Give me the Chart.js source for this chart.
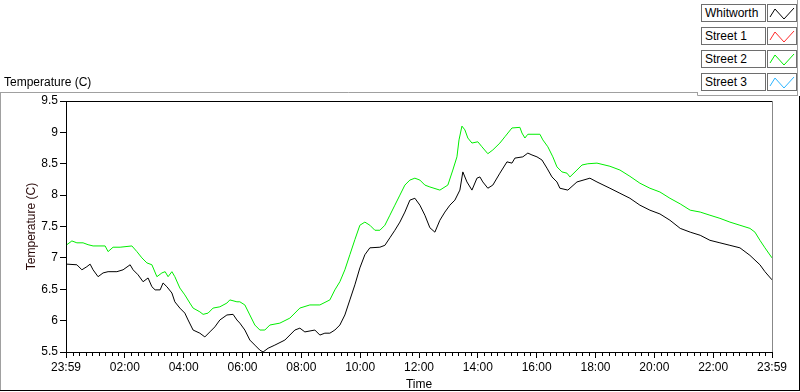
<!DOCTYPE html>
<html>
<head>
<meta charset="utf-8">
<script src="https://cdn.jsdelivr.net/npm/chart.js@4.4.0/dist/chart.umd.min.js"></script>
<style>
  body { margin: 0; background: #fff; font-family: "Liberation Sans", Arial, sans-serif; }
  #wrap { position: relative; width: 800px; height: 392px; overflow: hidden; }
  #c { position: absolute; left: 0; top: 0; }
  .lbl, .ico { position: absolute; height: 16px; border: 1px solid #6e6e6e; background: #fff; box-sizing: content-box; }
  .lbl { left: 701px; width: 60px; font-size: 12px; line-height: 16px; padding-left: 3px; color: #000; white-space: nowrap; }
  .ico { left: 767px; width: 28px; }
  .ico svg { display: block; }
</style>
</head>
<body>
<div id="wrap">
  <canvas id="c" width="800" height="392"></canvas>
  <div id="legend"></div>
</div>
<script>
// hours since 23:59 of the previous day
const whitworthTime = [0.03,0.37,0.54,0.71,0.82,0.92,1.09,1.26,1.43,1.73,1.94,2.18,2.28,2.45,2.62,2.79,2.92,3.03,3.20,3.30,3.43,3.60,3.70,3.87,4.04,4.15,4.32,4.55,4.72,4.89,5.06,5.23,5.47,5.68,5.81,5.91,6.08,6.25,6.42,6.59,6.70,6.87,7.10,7.44,7.78,7.95,8.12,8.46,8.63,8.80,8.97,9.14,9.31,9.48,9.65,9.82,9.99,10.16,10.33,10.67,10.84,11.01,11.18,11.35,11.52,11.69,11.86,12.03,12.20,12.37,12.54,12.71,12.88,13.05,13.22,13.39,13.49,13.63,13.80,13.97,14.07,14.17,14.34,14.51,14.75,14.99,15.16,15.26,15.53,15.70,15.84,16.01,16.18,16.35,16.52,16.69,16.79,17.06,17.37,17.81,18.05,18.49,18.83,19.17,19.51,19.85,20.19,20.53,20.88,21.22,21.56,21.89,22.23,22.57,22.91,23.25,23.59,23.76,24.00];
const whitworthTemp = [6.90,6.89,6.81,6.86,6.90,6.81,6.70,6.76,6.78,6.78,6.81,6.89,6.81,6.73,6.62,6.68,6.54,6.49,6.49,6.60,6.54,6.44,6.30,6.20,6.12,6.01,5.85,5.80,5.74,5.82,5.90,6.01,6.09,6.10,6.01,5.96,5.85,5.69,5.61,5.53,5.50,5.56,5.61,5.69,5.85,5.88,5.82,5.85,5.77,5.80,5.80,5.85,5.93,6.09,6.33,6.57,6.84,7.05,7.16,7.17,7.20,7.32,7.44,7.57,7.73,7.92,7.95,7.84,7.68,7.48,7.41,7.60,7.73,7.84,7.92,8.08,8.37,8.21,8.08,8.27,8.29,8.21,8.11,8.16,8.35,8.53,8.51,8.59,8.61,8.67,8.64,8.61,8.56,8.43,8.29,8.21,8.11,8.08,8.21,8.27,8.21,8.11,8.03,7.95,7.84,7.76,7.70,7.60,7.47,7.41,7.36,7.28,7.24,7.20,7.16,7.04,6.89,6.78,6.65];

const street2Time = [0.03,0.20,0.37,0.58,0.75,0.92,1.33,1.43,1.60,1.84,2.24,2.41,2.58,2.75,2.92,3.09,3.26,3.37,3.47,3.60,3.70,3.87,4.04,4.21,4.32,4.55,4.66,4.83,5.00,5.23,5.47,5.57,5.81,5.91,6.08,6.25,6.42,6.59,6.76,6.93,7.27,7.61,7.95,8.29,8.63,8.97,9.14,9.31,9.48,9.65,9.82,9.99,10.16,10.33,10.50,10.67,10.84,11.01,11.18,11.35,11.52,11.69,11.86,12.03,12.20,12.37,12.71,12.98,13.15,13.29,13.36,13.46,13.56,13.66,13.80,14.00,14.14,14.34,14.51,14.75,14.92,15.16,15.43,15.50,15.60,15.70,16.11,16.21,16.38,16.55,16.69,16.86,17.03,17.13,17.37,17.54,17.74,18.05,18.49,18.83,19.17,19.51,19.85,20.19,20.53,20.88,21.22,21.56,21.89,22.23,22.57,22.91,23.25,23.42,23.59,23.76,24.00];
const street2Temp = [7.21,7.27,7.24,7.24,7.21,7.19,7.19,7.10,7.17,7.17,7.19,7.10,7.00,6.92,6.89,6.70,6.76,6.78,6.70,6.78,6.70,6.52,6.41,6.28,6.20,6.14,6.10,6.12,6.20,6.22,6.28,6.33,6.30,6.30,6.25,6.09,5.93,5.85,5.85,5.93,5.96,6.04,6.20,6.25,6.25,6.33,6.49,6.62,6.81,7.05,7.29,7.52,7.57,7.52,7.44,7.44,7.52,7.68,7.84,8.00,8.16,8.24,8.27,8.24,8.16,8.13,8.08,8.16,8.40,8.61,8.88,9.10,9.04,8.91,8.83,8.85,8.77,8.66,8.72,8.83,8.93,9.07,9.08,8.99,8.91,8.97,8.97,8.88,8.77,8.61,8.45,8.37,8.35,8.29,8.40,8.48,8.50,8.51,8.46,8.40,8.30,8.19,8.11,8.05,7.95,7.86,7.76,7.73,7.68,7.63,7.57,7.52,7.47,7.41,7.28,7.16,7.00];

// no samples visible for these two
const street1Time = [];
const street1Temp = [];
const street3Time = [];
const street3Temp = [];

const seriesNames = ['Whitworth', 'Street 1', 'Street 2', 'Street 3'];
const seriesColors = ['#000000', '#ff2a2a', '#00ee00', '#2ab4ff'];
const xTicks = [0, 2, 4, 6, 8, 10, 12, 14, 16, 18, 20, 22, 24];
const yMin = 5.5, yMax = 9.5;

function pts(t, v) {
    return t.map((h, i) => ({ x: h, y: v[i] }));
}
const seriesData = [
    pts(whitworthTime, whitworthTemp),
    pts(street1Time, street1Temp),
    pts(street2Time, street2Temp),
    pts(street3Time, street3Temp)
];

function timeLabel(v) {
    if (v === 0 || v === 24) return '23:59';
    return (v < 10 ? '0' : '') + v + ':00';
}

// legend boxes on the top right
let legend = document.getElementById('legend');
seriesNames.forEach((name, i) => {
    let top = 4 + i * 23;
    let lbl = document.createElement('div');
    lbl.className = 'lbl';
    lbl.style.top = top + 'px';
    lbl.innerText = name;
    let ico = document.createElement('div');
    ico.className = 'ico';
    ico.style.top = top + 'px';
    ico.innerHTML = '<svg width="28" height="16"><polyline points="2,12 7,4 16,14 26,3" fill="none" stroke="' +
        seriesColors[i] + '" stroke-width="1"/></svg>';
    legend.appendChild(lbl);
    legend.appendChild(ico);
});

const framePlugin = {
    id: 'framePlugin',
    afterDraw(chart) {
        const ctx = chart.ctx;
        const a = chart.chartArea;
        const xs = chart.scales.x;
        ctx.save();
        ctx.lineWidth = 1;
        // top edge of plot
        ctx.strokeStyle = '#000';
        ctx.beginPath();
        ctx.moveTo(a.left, a.top + 0.5);
        ctx.lineTo(a.right, a.top + 0.5);
        ctx.stroke();
        // right edge of plot
        ctx.strokeStyle = '#888';
        ctx.beginPath();
        ctx.moveTo(a.right + 0.5, a.top);
        ctx.lineTo(a.right + 0.5, a.bottom);
        ctx.stroke();
        // minor ticks on the time axis
        ctx.strokeStyle = '#000';
        ctx.beginPath();
        for (let i = 0; i < xTicks.length - 1; i++) {
            let step = (xTicks[i + 1] - xTicks[i]) / 9;
            for (let k = 1; k < 9; k++) {
                let x = Math.round(xs.getPixelForValue(xTicks[i] + k * step)) + 0.5;
                ctx.moveTo(x, a.bottom + 1);
                ctx.lineTo(x, a.bottom + 4);
            }
        }
        ctx.stroke();
        // panel frames
        ctx.strokeStyle = '#a0a0a0';
        ctx.beginPath();
        ctx.moveTo(0, 92.5); ctx.lineTo(697.5, 92.5);
        ctx.moveTo(0.5, 92); ctx.lineTo(0.5, 391);
        ctx.moveTo(697.5, 92); ctx.lineTo(697.5, 95.5); ctx.lineTo(797, 95.5);
        ctx.moveTo(797.5, 0); ctx.lineTo(797.5, 96);
        ctx.stroke();
        ctx.strokeStyle = '#000';
        ctx.beginPath();
        ctx.moveTo(0, 390.5); ctx.lineTo(800, 390.5);
        ctx.moveTo(799.5, 96); ctx.lineTo(799.5, 391);
        ctx.stroke();
        // titles
        ctx.fillStyle = '#000';
        ctx.font = '12px "Liberation Sans", Arial, sans-serif';
        ctx.textAlign = 'left';
        ctx.textBaseline = 'alphabetic';
        ctx.fillText('Temperature (C)', 4, 86);
        ctx.textAlign = 'center';
        ctx.fillText('Time', (a.left + a.right) / 2, 388);
        ctx.translate(35, (a.top + a.bottom) / 2);
        ctx.rotate(-Math.PI / 2);
        ctx.fillStyle = '#2a0a0a';
        ctx.fillText('Temperature (C)', 0, 0);
        ctx.restore();
    }
};

let tempChart = new Chart(document.getElementById('c'), {
    type: 'line',
    data: {
        datasets: seriesNames.map((name, i) => ({
            label: name,
            data: seriesData[i],
            borderColor: seriesColors[i],
            backgroundColor: seriesColors[i],
            borderWidth: 1,
            pointRadius: 0,
            tension: 0,
            fill: false
        }))
    },
    options: {
        responsive: false,
        animation: false,
        layout: { padding: { left: 0, top: 101, right: 28, bottom: 0 } },
        plugins: { legend: { display: false }, tooltip: { enabled: false } },
        scales: {
            x: {
                type: 'linear',
                min: 0,
                max: 24,
                afterBuildTicks: s => { s.ticks = xTicks.map(v => ({ value: v })); },
                afterFit: s => { s.height = 40; },
                grid: { display: true, drawOnChartArea: false, drawTicks: true, tickLength: 6, color: '#000' },
                border: { display: true, color: '#000' },
                ticks: {
                    maxRotation: 0,
                    autoSkip: false,
                    padding: 2,
                    color: '#000',
                    font: { family: '"Liberation Sans", Arial, sans-serif', size: 12 },
                    callback: v => timeLabel(v)
                }
            },
            y: {
                min: yMin,
                max: yMax,
                afterFit: s => { s.width = 66; },
                grid: { display: true, drawOnChartArea: false, drawTicks: true, tickLength: 6, color: '#000' },
                border: { display: true, color: '#000' },
                ticks: {
                    stepSize: 0.5,
                    padding: 2,
                    color: '#000',
                    font: { family: '"Liberation Sans", Arial, sans-serif', size: 12 },
                    callback: v => String(Math.round(v * 10) / 10)
                }
            }
        }
    },
    plugins: [framePlugin]
});
</script>
</body>
</html>
